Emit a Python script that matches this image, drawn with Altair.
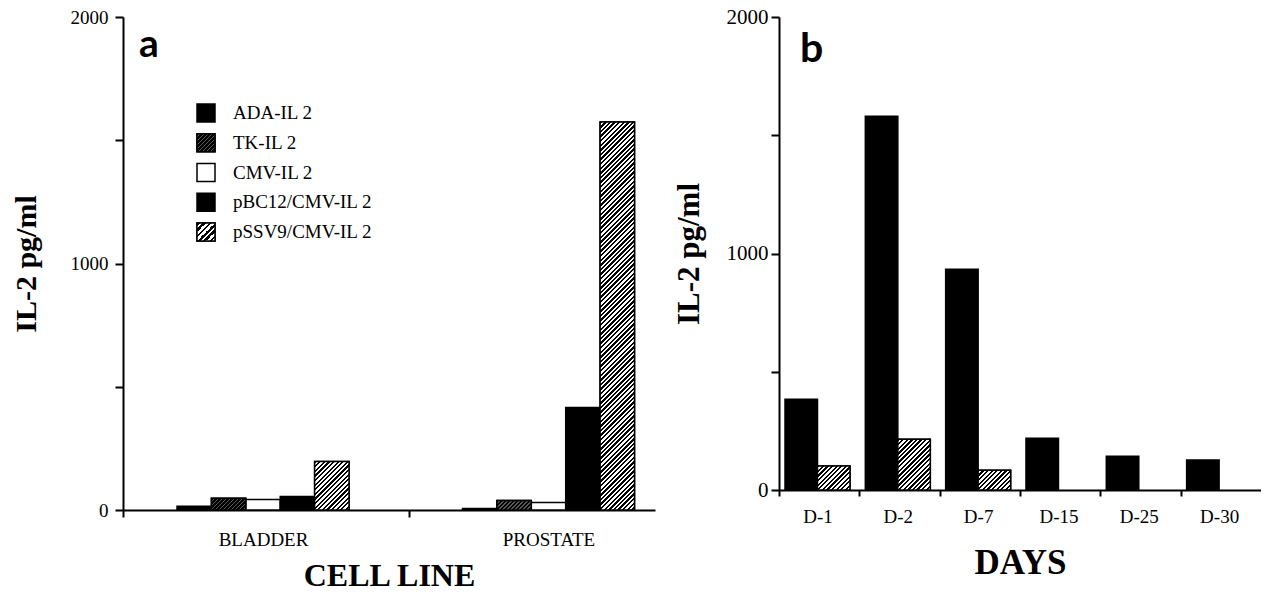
import altair as alt
import pandas as pd

# ---------------- data ----------------
cells = ["BLADDER", "PROSTATE"]
series_a = ["ADA-IL 2", "TK-IL 2", "CMV-IL 2", "pBC12/CMV-IL 2", "pSSV9/CMV-IL 2"]
bladder_vals = [15, 48, 43, 55, 197]
prostate_vals = [6, 39, 30, 416, 1574]

days = ["D-1", "D-2", "D-7", "D-15", "D-25", "D-30"]
series_b = ["pBC12/CMV-IL 2", "pSSV9/CMV-IL 2"]
black_vals = [384, 1580, 933, 219, 143, 127]
hatched_vals = [101, 215, 84, None, None, None]

y_ticks = [0, 500, 1000, 1500, 2000]
y_max = 2000

# ---------------- styles / layout ----------------
SERIF = "Liberation Serif"
A_W, A_H = 532, 493
B_W, B_H = 482, 473
# band layout (panel a): step 285.5, group width 172, group starts 54 px into the step
A_PI, A_PO, A_ALIGN, A_SHIFT = 0.3975, 0.1305, 0.725, 54
# band layout (panel b): step 80.3, group width 65, group starts 6 px into the step
B_PI, B_PO, B_ALIGN, B_SHIFT = 0.191, 0.0959, 0.39, 6

fill_a = ["black", "black", "white", "black", "white"]
fill_b = ["black", "white"]


def hatch(w, h, fg, bg, period=4.6, frac=0.5, k=2.0):
    """Diagonal stripe gradient for a w x h box (pixels)."""
    s = w / (k * (w * w + h * h))
    stops = []
    n = 0
    limit = w + h + period
    while n * period < limit:
        a = min(n * period * s, 1.0)
        b = min((n + frac) * period * s, 1.0)
        c = min((n + 1) * period * s, 1.0)
        stops += [
            {"offset": round(a, 6), "color": fg},
            {"offset": round(b, 6), "color": fg},
            {"offset": round(b, 6), "color": bg},
            {"offset": round(c, 6), "color": bg},
        ]
        if c >= 1.0:
            break
        n += 1
    return {"gradient": "linear", "x1": 0, "y1": 0, "x2": k, "y2": k * h / w, "stops": stops}


HATCH = dict(fg="black", bg="white", period=4.6, frac=0.5)
DARK = dict(fg="black", bg="#585858", period=4.0, frac=0.62)

# ---------------- panel a ----------------
rows_a = []
for c, vals in zip(cells, [bladder_vals, prostate_vals]):
    for s, v in zip(series_a, vals):
        rows_a.append({"cell": c, "series": s, "value": v})
df_a = pd.DataFrame(rows_a)

y_axis_a = alt.Axis(
    values=y_ticks, format="d", labelExpr="datum.value % 1000 === 0 ? datum.label : ''",
    grid=False, domainColor="black", domainWidth=2, tickColor="black", tickWidth=2, tickSize=8,
    labelFont=SERIF, labelFontSize=19, labelColor="black", labelPadding=7, labelFlush=False,
    labelOverlap=False, title="IL-2 pg/ml", titleFont=SERIF, titleFontSize=30,
    titleFontWeight="bold", titleColor="black", titlePadding=29,
)
x_axis_a = alt.Axis(
    domain=True, domainColor="black", domainWidth=2, tickColor="black", tickWidth=2, tickSize=7,
    bandPosition=0, tickOffset=-A_SHIFT, labelOffset=A_SHIFT,
    labelFont=SERIF, labelFontSize=19, labelColor="black", labelAngle=0, labelPadding=13,
    title="CELL LINE", titleFont=SERIF, titleFontSize=32, titleFontWeight="bold",
    titleColor="black", titlePadding=11,
)

xa = alt.X("cell:N", scale=alt.Scale(domain=cells, paddingInner=A_PI, paddingOuter=A_PO, align=A_ALIGN, round=False), axis=x_axis_a)
xoa = alt.XOffset("series:N", scale=alt.Scale(domain=series_a, paddingInner=0, paddingOuter=0))
ya = alt.Y("value:Q", scale=alt.Scale(domain=[0, y_max], nice=False, zero=True), axis=y_axis_a)

base_a = alt.Chart(df_a).mark_bar(stroke="black", strokeWidth=1.5).encode(
    x=xa, xOffset=xoa, y=ya,
    color=alt.Color("series:N", scale=alt.Scale(domain=series_a, range=fill_a), legend=None),
)

step_a = A_W / (len(cells) - A_PI + 2 * A_PO)
bar_w_a = step_a * (1 - A_PI) / len(series_a)
pattern_layers_a = []
for c, vals in zip(cells, [bladder_vals, prostate_vals]):
    for s, v in zip(series_a, vals):
        if s == "TK-IL 2":
            style = DARK
        elif s == "pSSV9/CMV-IL 2":
            style = HATCH
        else:
            continue
        h = max(v / y_max * A_H, 1.0)
        g = hatch(bar_w_a, h, **style)
        pattern_layers_a.append(
            alt.Chart(df_a)
            .transform_filter((alt.datum.cell == c) & (alt.datum.series == s))
            .mark_bar(fill=g, stroke="black", strokeWidth=1.5)
            .encode(x=xa, xOffset=xoa, y=ya)
        )

bars_a = alt.layer(base_a, *pattern_layers_a)

# legend for panel a
leg_df = pd.DataFrame({"entry": series_a})
leg_y = alt.Y("entry:N", scale=alt.Scale(domain=series_a, range=[96, 215], padding=0), axis=None)
leg_sq = alt.Chart(leg_df).mark_square(size=324, stroke="black", strokeWidth=1.5, opacity=1).encode(
    x=alt.value(83), y=leg_y,
    fill=alt.Fill("entry:N", scale=alt.Scale(domain=series_a, range=fill_a), legend=None),
)
leg_tk = alt.Chart(leg_df).transform_filter(alt.datum.entry == "TK-IL 2").mark_square(
    size=324, fill=hatch(18, 18, **DARK), stroke="black", strokeWidth=1.5, opacity=1
).encode(x=alt.value(83), y=leg_y)
leg_ss = alt.Chart(leg_df).transform_filter(alt.datum.entry == "pSSV9/CMV-IL 2").mark_square(
    size=324, fill=hatch(18, 18, fg="black", bg="white", period=6, frac=0.5), stroke="black", strokeWidth=1.5, opacity=1
).encode(x=alt.value(83), y=leg_y)
leg_txt = alt.Chart(leg_df).mark_text(
    align="left", baseline="middle", font=SERIF, fontSize=19, color="black"
).encode(x=alt.value(110), y=leg_y, text="entry:N")
letter_a = alt.Chart(pd.DataFrame({"t": ["a"]})).mark_text(
    align="left", baseline="alphabetic", font="Lato", fontWeight="bold", fontSize=39, color="black"
).encode(x=alt.value(16), y=alt.value(40), text="t:N")

legend_a = alt.layer(leg_sq, leg_tk, leg_ss, leg_txt, letter_a)

panel_a = alt.layer(bars_a, legend_a).resolve_scale(y="independent").properties(width=A_W, height=A_H)

# ---------------- panel b ----------------
rows_b = []
for d, v1, v2 in zip(days, black_vals, hatched_vals):
    rows_b.append({"day": d, "vector": series_b[0], "level": v1})
    if v2 is not None:
        rows_b.append({"day": d, "vector": series_b[1], "level": v2})
df_b = pd.DataFrame(rows_b)

y_axis_b = alt.Axis(
    values=y_ticks, format="d", labelExpr="datum.value % 1000 === 0 ? datum.label : ''",
    grid=False, domainColor="black", domainWidth=2, tickColor="black", tickWidth=2, tickSize=8,
    labelFont=SERIF, labelFontSize=21, labelColor="black", labelPadding=3, labelFlush=False,
    labelOverlap=False, title="IL-2 pg/ml", titleFont=SERIF, titleFontSize=31,
    titleFontWeight="bold", titleColor="black", titlePadding=21,
)
x_axis_b = alt.Axis(
    domain=True, domainColor="black", domainWidth=2, tickColor="black", tickWidth=2, tickSize=6,
    bandPosition=0, tickOffset=-B_SHIFT, labelOffset=B_SHIFT,
    labelFont=SERIF, labelFontSize=19, labelColor="black", labelAngle=0,
    labelPadding=11, title="DAYS", titleFont=SERIF, titleFontSize=35, titleFontWeight="bold",
    titleColor="black", titlePadding=19,
)

xb = alt.X("day:N", scale=alt.Scale(domain=days, paddingInner=B_PI, paddingOuter=B_PO, align=B_ALIGN, round=False), axis=x_axis_b)
xob = alt.XOffset("vector:N", scale=alt.Scale(domain=series_b, paddingInner=0, paddingOuter=0))
yb = alt.Y("level:Q", scale=alt.Scale(domain=[0, y_max], nice=False, zero=True), axis=y_axis_b)

base_b = alt.Chart(df_b).mark_bar(stroke="black", strokeWidth=1.5).encode(
    x=xb, xOffset=xob, y=yb,
    fill=alt.Fill("vector:N", scale=alt.Scale(domain=series_b, range=fill_b), legend=None),
)

step_b = B_W / (len(days) - B_PI + 2 * B_PO)
bar_w_b = step_b * (1 - B_PI) / len(series_b)
pattern_layers_b = []
for d, v2 in zip(days, hatched_vals):
    if v2 is None:
        continue
    h = max(v2 / y_max * B_H, 1.0)
    g = hatch(bar_w_b, h, **HATCH)
    pattern_layers_b.append(
        alt.Chart(df_b)
        .transform_filter((alt.datum.day == d) & (alt.datum.vector == series_b[1]))
        .mark_bar(fill=g, stroke="black", strokeWidth=1.5)
        .encode(x=xb, xOffset=xob, y=yb)
    )

letter_b = alt.Chart(pd.DataFrame({"t": ["b"]})).mark_text(
    align="left", baseline="alphabetic", font="Lato", fontWeight="bold", fontSize=41, color="black"
).encode(x=alt.value(21), y=alt.value(45), text="t:N")

panel_b = alt.layer(base_b, *pattern_layers_b, letter_b).properties(width=B_W, height=B_H)

chart = (
    alt.hconcat(panel_a, panel_b, spacing=18)
    .resolve_scale(x="independent", y="independent", xOffset="independent", color="independent", fill="independent")
    .properties(padding={"left": 11, "top": 6, "right": 0, "bottom": 0}, background="white")
    .configure_view(stroke=None)
)

chart.save("out.html", embed_options={"renderer": "svg", "actions": False})
